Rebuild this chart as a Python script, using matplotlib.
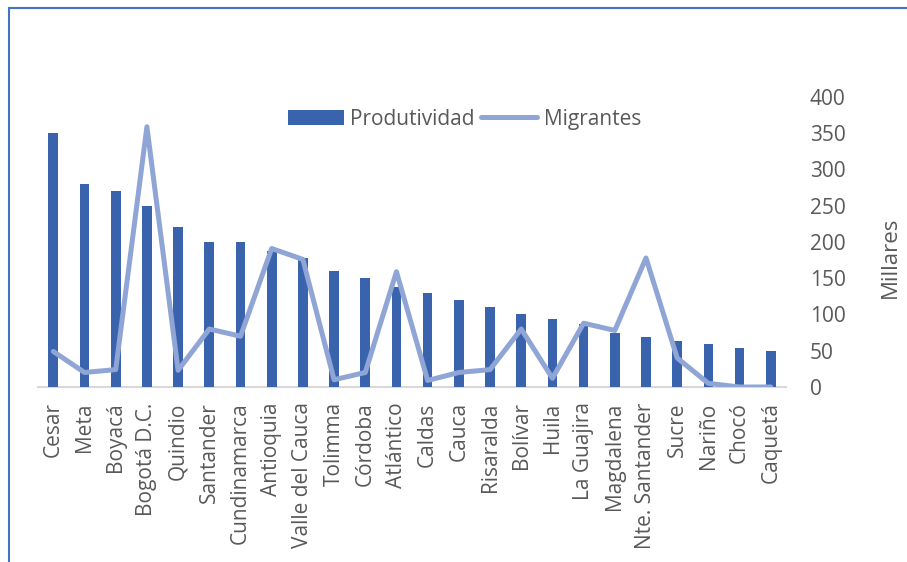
import numpy as np
import matplotlib
matplotlib.use("Agg")
import matplotlib.pyplot as plt
from matplotlib.lines import Line2D

plt.rcParams['font.family'] = ['Open Sans', 'DejaVu Sans']

# ============================================================================
departamentos = ["Cesar", "Meta", "Boyacá", "Bogotá D.C.", "Quindio", "Santander",
                 "Cundinamarca", "Antioquia", "Valle del Cauca", "Tolimma", "Córdoba",
                 "Atlántico", "Caldas", "Cauca", "Risaralda", "Bolívar", "Huila",
                 "La Guajira", "Magdalena", "Nte. Santander", "Sucre", "Nariño",
                 "Chocó", "Caquetá"]
produtividad = [350, 280, 270, 250, 220, 200, 200, 187, 178, 160, 150, 138,
                130, 120, 110, 100, 94, 87, 74, 69, 64, 59, 54, 49]
migrantes = [49, 20, 24, 359, 23, 80, 70, 191, 176, 10, 20, 159,
             9, 20, 24, 80, 12, 88, 78, 178, 40, 5, 0, 0]
y_ticks = [0, 50, 100, 150, 200, 250, 300, 350, 400]

bar_color = "#3A63AD"
line_color = "#8FA5D6"
text_color = "#595959"

fig = plt.figure(figsize=(9.07, 5.62), dpi=100)
ax = fig.add_axes([0.0416, 0.3114, 0.8254, 0.516])

x = np.arange(len(departamentos))
bars = ax.bar(x, produtividad, width=0.31, color=bar_color, label="Produtividad", zorder=2)
line, = ax.plot(x, migrantes, color=line_color, lw=3.6, solid_joinstyle="round",
                solid_capstyle="round", label="Migrantes", zorder=3)

ax.set_xlim(-0.5, len(departamentos) - 0.5)
ax.set_ylim(0, 400)
ax.set_xticks(x)
ax.set_xticklabels(departamentos, rotation=90, fontsize=15, color=text_color)
ax.yaxis.tick_right()
ax.set_yticks(y_ticks)
ax.set_yticklabels([str(v) for v in y_ticks], fontsize=15, color=text_color)
ax.tick_params(axis="x", length=0, pad=11)
ax.tick_params(axis="y", length=0, pad=17)

for s in ["top", "left", "right"]:
    ax.spines[s].set_visible(False)
ax.spines["bottom"].set_color("#D9D9D9")
ax.spines["bottom"].set_linewidth(1.5)
ax.spines["bottom"].set_zorder(1)

ax.text(1.1386, 0.448, "Millares", transform=ax.transAxes, rotation=90,
        ha="center", va="center", fontsize=16, color=text_color)

fig.legend([bars, line], ["Produtividad", "Migrantes"], loc="center",
           bbox_to_anchor=(0.512, 0.788), ncol=2, frameon=False,
           fontsize=15, handlelength=2.7, handletextpad=0.3, columnspacing=0.3,
           labelcolor=text_color)

# outer border
bc = "#4472C4"
fig.add_artist(Line2D([9 / 907, 9 / 907], [0, 1 - 8 / 562], color=bc, lw=1.5,
                      transform=fig.transFigure))
fig.add_artist(Line2D([9 / 907, 1], [1 - 8 / 562, 1 - 8 / 562], color=bc, lw=1.5,
                      transform=fig.transFigure))

fig.savefig("out.png", dpi=100)
